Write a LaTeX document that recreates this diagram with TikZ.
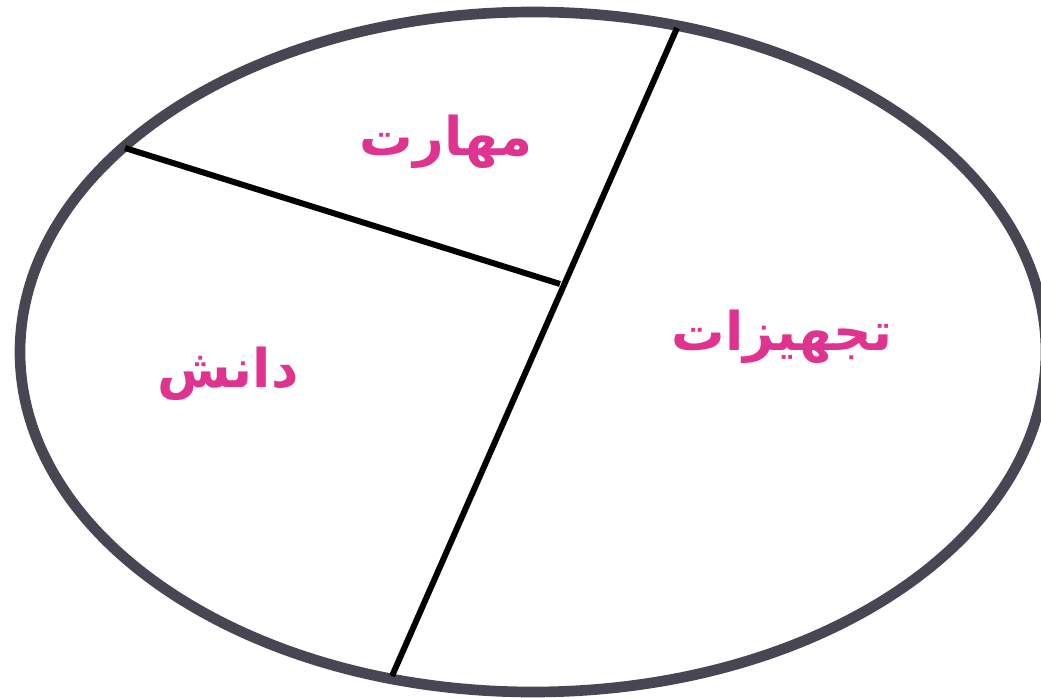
\documentclass[tikz,border=0pt]{standalone}
\usepackage{fontspec}
\newfontfamily\arabicfont[Script=Arabic]{DejaVu Sans}
\TeXXeTstate=1
\definecolor{rim}{HTML}{474754}
\definecolor{lbl}{HTML}{E0338F}
\begin{document}
\begin{tikzpicture}[x=0.75pt,y=-0.75pt,
  rimline/.style={draw=rim,line width=8pt},
  divider/.style={draw=black,line width=4.5pt},
  word/.style={text=lbl,font=\arabicfont\bfseries\fontsize{40}{48}\selectfont,inner sep=0pt}]
\useasboundingbox (0,0) rectangle (1041,698);
\draw[rimline] (533,352) ellipse [x radius=513, y radius=340];
\coordinate (t1) at (677,28);
\coordinate (b1) at (392,676);
\coordinate (l2) at (125,148);
\coordinate (m2) at (560,284);
\draw[divider] (t1) -- (b1);
\draw[divider] (l2) -- (m2);
\node[word] (skill) at (446,142) {\beginR مهارت\endR};
\node[word] (know) at (228,374) {\beginR دانش\endR};
\node[word] (equip) at (782,337) {\beginR تجهیزات\endR};
\end{tikzpicture}
\end{document}
